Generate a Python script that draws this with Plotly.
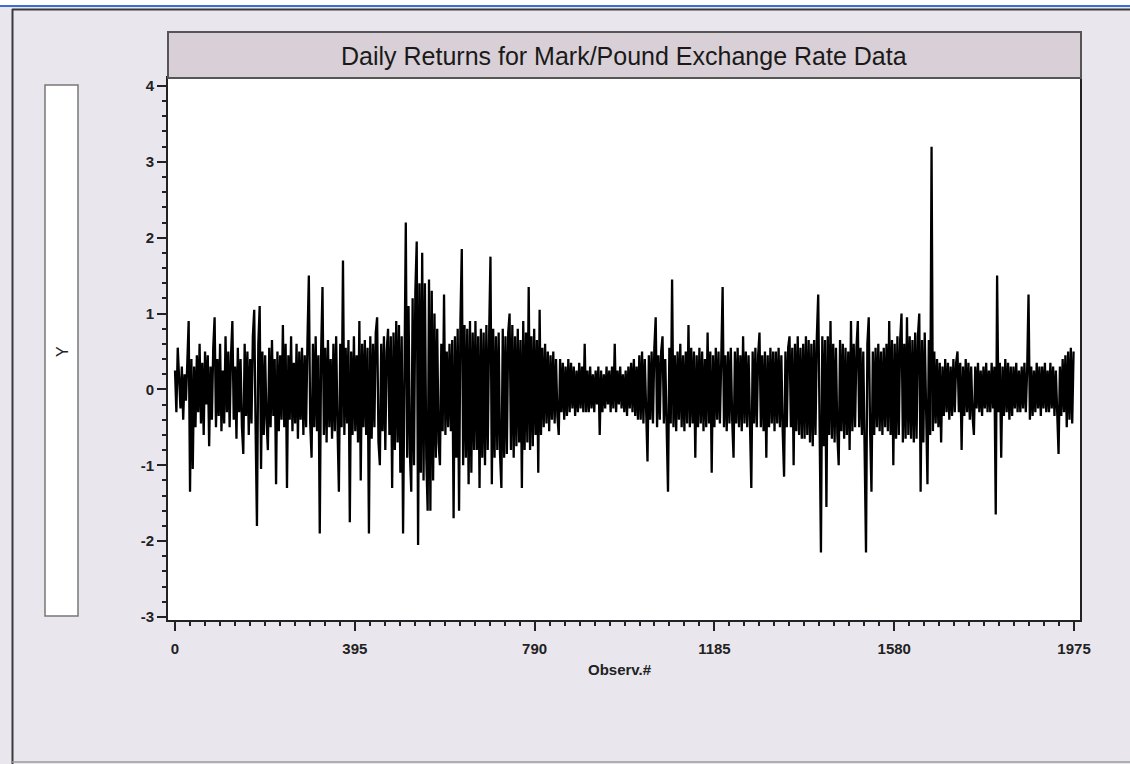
import plotly.graph_objects as go

ret = [
    0.25, -0.3, 0.55, 0.1, -0.25, 0.3, -0.4, 0.2, -0.15, 0.35, 0.9, -1.35, 0.4, -1.05, 0.3, -0.5, 0.45, -0.3, 0.6, -0.45,
    0.35, -0.6, 0.5, -0.2, 0.45, -0.75, 0.3, -0.4, 0.55, 0.95, -0.5, 0.4, -0.35, 0.6, -0.55, 0.25, -0.45, 0.7, -0.3, 0.5,
    -0.5, 0.45, 0.9, -0.4, 0.3, -0.65, 0.55, -0.3, 0.4, -0.5, -0.85, 0.6, -0.35, 0.5, -0.6, 0.4, -0.45, 0.7, 1.05, -0.5,
    -1.8, 0.6, 1.1, -1.05, 0.5, -0.6, 0.45, -0.4, -0.8, 0.55, -0.5, 0.65, -0.35, 0.4, -1.25, 0.5, -0.55, 0.45, -0.4, 0.85,
    -0.5, 0.6, -1.3, 0.45, -0.4, 0.7, -0.55, 0.35, -0.45, 0.6, -0.65, 0.5, -0.4, 0.55, -0.6, 0.45, -0.5, 0.65, 1.5, -0.45,
    -0.9, 0.6, -0.5, 0.7, -0.55, 0.45, -1.9, 0.5, 1.35, -0.6, 0.55, -0.7, 0.65, -0.5, 0.4, -0.65, 0.6, -0.55, 0.7, -0.5,
    -1.35, 0.6, -0.5, 1.7, -0.6, 0.55, -0.45, 0.65, -1.75, 0.5, -0.6, 0.7, -0.55, 0.45, -0.7, 0.9, -1.2, 0.6, -0.5, 0.65,
    -0.6, 0.55, -1.9, 0.7, -0.65, 0.6, -0.5, 0.75, 0.95, -0.7, -1.0, 0.6, -0.55, 0.7, -0.8, 0.5, 0.8, -0.6, 0.7, -1.3,
    0.75, -0.8, 0.9, -0.7, 0.85, -1.1, 0.7, -1.9, 0.8, 2.2, -0.9, 1.1, -0.85, -1.35, 1.2, -1.0, 1.3, 1.95, -2.05, 1.4,
    -1.1, 1.8, -1.2, 1.4, -0.9, -1.6, 1.45, -1.6, 1.3, -1.2, 1.0, -0.9, 0.8, -0.7, -1.0, 0.6, -0.55, 1.25, -0.6, 0.5,
    -0.5, 0.6, -0.55, 0.65, -1.7, 0.7, -0.9, 0.8, -1.6, 0.9, 1.85, -1.0, 0.85, -0.9, 0.8, -1.25, 0.9, -1.1, 0.75, -0.8,
    0.9, -0.8, 0.7, -1.3, 0.8, -0.9, 0.75, -1.0, 0.85, -0.8, 0.7, 1.75, -1.25, 0.8, -0.9, 0.7, -0.8, 0.75, -0.85, -1.3,
    0.8, -0.9, 0.7, -0.85, 0.75, 1.0, -0.8, 0.85, -0.9, 0.7, -0.75, 0.8, -0.7, 0.65, -1.3, 0.9, -0.8, 0.75, -0.7, 1.35,
    -0.8, 0.7, -0.75, 0.8, -0.6, 0.65, -1.1, 1.05, -0.6, 0.55, -0.5, 0.6, -0.45, 0.5, -0.55, 0.45, -0.4, 0.5, -0.45, 0.4,
    -0.35, -0.6, 0.4, -0.3, 0.35, -0.4, 0.3, -0.35, 0.4, -0.3, 0.35, -0.25, 0.3, -0.35, 0.25, -0.3, 0.35, -0.25, 0.3, -0.3,
    0.6, -0.3, 0.25, -0.3, 0.3, -0.25, 0.2, -0.3, 0.25, -0.2, 0.3, -0.6, 0.25, -0.3, 0.2, -0.25, 0.3, -0.2, 0.25, -0.3,
    0.3, -0.25, 0.6, -0.3, 0.25, -0.2, 0.3, -0.25, 0.2, -0.3, 0.25, -0.35, 0.3, -0.25, 0.35, -0.3, 0.4, -0.35, 0.3, -0.4,
    0.45, -0.4, 0.5, -0.45, 0.4, -0.5, -0.95, 0.45, -0.4, 0.5, -0.45, 0.55, 0.95, -0.5, 0.45, -0.4, 0.5, 0.7, -0.45, 0.4,
    -0.5, -1.35, 0.55, -0.45, 1.45, -0.5, 0.45, -0.55, 0.5, -0.4, 0.6, -0.5, 0.45, -0.55, 0.5, -0.45, 0.85, -0.5, 0.55, -0.45,
    0.5, -0.9, 0.45, -0.5, 0.55, -0.45, 0.5, -0.55, 0.4, -0.5, 0.75, -0.45, 0.5, -1.1, 0.45, -0.5, 0.55, -0.4, 0.5, -0.45,
    0.4, 1.35, -0.5, 0.45, -0.55, 0.5, -0.45, 0.55, -0.4, -0.9, 0.5, -0.45, 0.55, -0.5, 0.45, -0.55, 0.7, -0.45, 0.5, -0.5,
    0.45, -0.5, -1.3, 0.5, -0.45, 0.55, -0.5, 0.45, 0.75, -0.5, 0.45, -0.55, 0.5, -0.9, 0.45, -0.5, 0.55, -0.45, 0.5, -0.55,
    0.5, -0.45, 0.55, -0.5, 0.45, -0.55, -1.15, 0.5, -0.5, 0.55, 0.7, -0.5, 0.55, -1.0, 0.6, -0.55, 0.7, -0.6, 0.55, -0.65,
    0.6, -0.65, 0.7, -0.6, 0.65, -0.7, 0.6, -0.75, 0.65, -0.6, 0.7, 1.25, -0.8, -2.15, 0.7, -0.75, 0.65, -1.55, 0.7, -0.6,
    0.9, -0.65, 0.6, -0.7, 0.55, -0.6, -1.0, 0.65, -0.55, 0.6, -0.65, 0.55, -0.6, 0.5, -0.8, 0.9, -0.55, 0.6, -0.5, 0.55,
    0.9, -0.5, 0.55, -0.6, 0.5, -0.55, -2.15, 0.6, 0.95, -0.55, -1.35, 0.5, -0.6, 0.55, -0.5, 0.6, -0.55, 0.5, -0.6, 0.55,
    -0.5, 0.6, -0.55, 0.9, -0.6, 0.65, -1.0, 0.6, -0.65, 0.7, -0.6, 0.65, 1.0, -0.7, 0.6, -0.65, 0.95, -0.6, 0.7, -0.65,
    0.65, -0.7, 0.75, -0.65, 0.7, 1.0, -1.35, 0.65, -0.7, 0.75, -0.6, -1.25, 0.65, -0.6, 3.2, -0.55, 0.5, -0.45, 0.4, -0.5,
    0.35, -0.7, 0.3, -0.35, 0.4, -0.3, 0.35, -0.4, 0.3, -0.35, 0.4, -0.3, 0.35, 0.5, -0.3, 0.35, -0.8, 0.3, -0.35, 0.4,
    -0.3, 0.35, -0.4, 0.3, -0.35, -0.6, 0.3, -0.25, 0.35, -0.3, 0.25, -0.35, 0.3, -0.25, 0.35, -0.3, 0.25, -0.3, 0.35, -0.25,
    0.3, -1.65, 1.5, -0.3, 0.35, -0.9, 0.3, -0.35, 0.4, -0.3, 0.35, -0.4, 0.3, -0.35, 0.3, -0.25, 0.35, -0.3, 0.25, -0.3,
    0.3, -0.25, 0.35, -0.3, 0.25, 1.25, -0.4, 0.3, -0.35, 0.25, -0.3, 0.35, -0.25, 0.3, -0.35, 0.3, -0.25, 0.35, -0.3, 0.25,
    -0.3, 0.35, -0.25, 0.3, -0.35, 0.25, -0.3, -0.85, 0.3, -0.35, 0.4, -0.3, 0.45, -0.5, 0.5, -0.4, 0.55, -0.45, 0.5,
]
obs = list(range(0, 3 * len(ret), 3))

x_ticks = [0, 395, 790, 1185, 1580, 1975]
y_ticks = [-3, -2, -1, 0, 1, 2, 3, 4]
title_text = "Daily Returns for Mark/Pound Exchange Rate Data"
x_title = "Observ.#"
y_title = "Y"

W, H = 1130, 764
L, R, T, B = 168, 1080, 78, 620  # plot area in pixels


def px(xp):
    return (xp - L) / (R - L)


def py(yp):
    return (B - yp) / (B - T)


fig = go.Figure(go.Scatter(x=obs, y=ret, mode="lines",
                           line=dict(color="black", width=2.3),
                           hoverinfo="skip", showlegend=False))

tick_font = dict(family="Liberation Sans, Arial", size=15, color="#222", weight="bold")
xlab_font = dict(family="Liberation Sans, Arial", size=15, color="#222", weight="bold")

shapes = [
    dict(type="rect", xref="paper", yref="paper", x0=px(0), x1=px(W), y0=py(0), y1=py(5),
         fillcolor="white", line=dict(width=0), layer="below"),
    dict(type="line", xref="paper", yref="paper", x0=px(0), x1=px(W), y0=py(6), y1=py(6),
         line=dict(color="#3B6FD6", width=2)),
    dict(type="line", xref="paper", yref="paper", x0=px(12), x1=px(W), y0=py(9.5), y1=py(9.5),
         line=dict(color="#3a3a3a", width=2)),
    dict(type="line", xref="paper", yref="paper", x0=px(12.5), x1=px(12.5), y0=py(9), y1=py(H),
         line=dict(color="#3a3a3a", width=2)),
    dict(type="line", xref="paper", yref="paper", x0=px(12), x1=px(W), y0=py(762), y1=py(762),
         line=dict(color="#9a9a9a", width=1.5)),
    dict(type="rect", xref="paper", yref="paper", x0=px(168), x1=px(1081), y0=py(78), y1=py(32),
         fillcolor="#D9CFD6", line=dict(color="#555", width=2)),
    dict(type="rect", xref="paper", yref="paper", x0=px(45), x1=px(78), y0=py(616), y1=py(85),
         fillcolor="white", line=dict(color="#777", width=1.5)),
]

annotations = [
    dict(text=title_text, xref="paper", yref="paper", x=px(624), y=py(56),
         showarrow=False, xanchor="center", yanchor="middle",
         font=dict(family="Liberation Sans, Arial", size=25, color="#1a1a1a")),
    dict(text=x_title, xref="paper", yref="paper", x=px(620), y=py(669),
         showarrow=False, xanchor="center", yanchor="middle", font=xlab_font),
    dict(text=y_title, xref="paper", yref="paper", x=px(62), y=py(352), textangle=-90,
         showarrow=False, xanchor="center", yanchor="middle",
         font=dict(family="Liberation Sans, Arial", size=16, color="#222")),
]

fig.update_layout(
    width=W, height=H,
    margin=dict(l=L, r=W - R, t=T, b=H - B, pad=0),
    paper_bgcolor="#E9E6EE",
    plot_bgcolor="white",
    shapes=shapes,
    annotations=annotations,
    xaxis=dict(range=[-15.4, 1988.1], tickmode="array", tickvals=x_ticks,
               ticktext=[str(v) for v in x_ticks], ticks="outside", ticklen=9, tickwidth=1.5,
               tickcolor="#222", showgrid=False, zeroline=False, showline=True,
               linecolor="#222", linewidth=2, mirror=True, tickfont=tick_font,
               ticklabelstandoff=5,
               minor=dict(tick0=0, dtick=395 / 12, ticks="outside", ticklen=4, tickwidth=1.5,
                          tickcolor="#222", showgrid=False)),
    yaxis=dict(range=[-3.04, 4.105], tickmode="array", tickvals=y_ticks,
               ticktext=[str(v) for v in y_ticks], ticks="outside", ticklen=9, tickwidth=1.5,
               tickcolor="#222", showgrid=False, zeroline=False, showline=True,
               linecolor="#222", linewidth=2, mirror=True, tickfont=tick_font,
               minor=dict(tick0=0, dtick=0.2, ticks="outside", ticklen=4, tickwidth=1.5,
                          tickcolor="#222", showgrid=False)),
)

fig.write_html("out.html", config={"displayModeBar": False},
               post_script="document.body.style.margin='0';document.body.style.padding='0';")
